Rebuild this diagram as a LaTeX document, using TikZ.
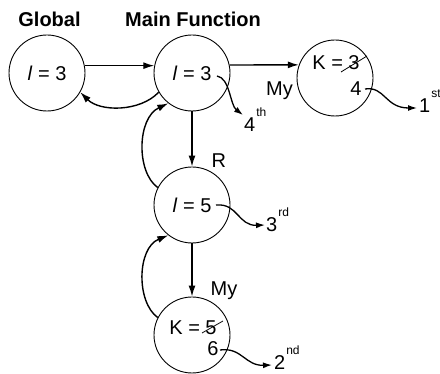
\documentclass[tikz,border=0pt]{standalone}
\usepackage{fontspec}
\setmainfont{Liberation Sans}
\usetikzlibrary{arrows.meta}
\newcommand\ordl[2]{#1\kern1pt\raisebox{0.75em}{\fontsize{12}{12}\selectfont #2}}
\begin{document}
\begin{tikzpicture}[x=1pt,y=1pt,
  circ/.style={circle,draw,line width=0.9pt,minimum size=76pt,inner sep=0pt,font=\fontsize{20}{20}\selectfont},
  txt/.style={inner sep=0pt,font=\fontsize{20}{20}\selectfont},
  ttl/.style={inner sep=0pt,font=\fontsize{20}{20}\selectfont\bfseries},
  arr/.style={line width=1.4pt,-{Latex[length=11pt,width=7pt]}},
  snk/.style={line width=1.3pt,-{Latex[length=9pt,width=6pt]}},
  strike/.style={line width=0.8pt}]
\useasboundingbox (0,0) rectangle (440,-374);
% titles
\node[ttl,anchor=base] (tg) at (49.5,-27) {Global};
\node[ttl,anchor=base] (tm) at (193,-27) {Main Function};
% circles
\node[circ] (G) at (47,-73) {\textit{l} = 3};
\node[circ] (M) at (192,-73) {\textit{l} = 3};
\node[circ] (K1) at (335,-78) {};
\node[circ] (R) at (192,-205) {\textit{l} = 5};
\node[circ] (K2) at (192,-335) {};
% texts in K circles
\node[txt] (k1a) at (336,-63) {K = 3};
\node[txt] (k1b) at (356,-89) {4};
\node[txt] (k2a) at (193,-328) {K = 5};
\node[txt] (k2b) at (213,-349) {6};
\draw[strike] (341,-72) -- (367,-56);
\draw[strike] (202,-333) -- (223,-321);
% labels
\node[txt,anchor=base] (my1) at (279.5,-96) {My};
\node[txt,anchor=base west] (rl) at (211.5,-168) {R};
\node[txt,anchor=base] (my2) at (224,-296) {My};
% ordinals
\node[txt,anchor=base west] (o4) at (244,-132) {\ordl{4}{th}};
\node[txt,anchor=base west] (o3) at (266,-232) {\ordl{3}{rd}};
\node[txt,anchor=base west] (o2) at (274,-370) {\ordl{2}{nd}};
\node[txt,anchor=base west] (o1) at (419,-113) {\ordl{1}{st}};
% connectors
\draw[arr] (G.11) -- (M.169);
\draw[arr] (M.12) -- (K1.160);
\draw[arr] (M.south) -- (R.north);
\draw[arr] (R.south) -- (K2.north);
\draw[arr] (M.210) .. controls (140,-112) and (100,-112) .. (G.-30);
\draw[arr] (R.153) .. controls (136,-172) and (137,-118) .. (M.232);
\draw[arr] (K2.153) .. controls (136,-302) and (137,-248) .. (R.232);
% snakes
\coordinate (s4) at (217,-76); \coordinate (e4) at (243,-115);
\coordinate (s1) at (365,-89); \coordinate (e1) at (417,-108);
\coordinate (s3) at (216,-205); \coordinate (e3) at (265,-225);
\coordinate (s2) at (220,-350); \coordinate (e2) at (272,-365);
\draw[snk] (s4) .. controls (230,-78) and (230,-105) .. (e4);
\draw[snk] (s1) .. controls (385,-86) and (385,-108) .. (e1);
\draw[snk] (s3) .. controls (238,-203) and (238,-226) .. (e3);
\draw[snk] (s2) .. controls (242,-347) and (245,-366) .. (e2);
\end{tikzpicture}
\end{document}
